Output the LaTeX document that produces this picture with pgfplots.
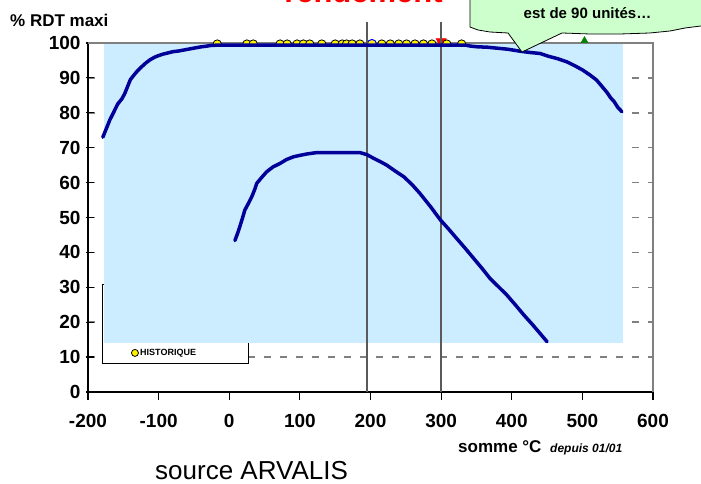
\documentclass[border=0pt]{standalone}
\usepackage{fontspec}
\setmainfont{Liberation Sans}
\usepackage{pgfplots}
\pgfplotsset{compat=1.18}
\definecolor{navy}{HTML}{000099}
\definecolor{skyb}{HTML}{CCECFF}
\definecolor{mint}{HTML}{CCFFCC}
\definecolor{gridg}{HTML}{808080}
\definecolor{vline}{HTML}{5A5A5A}
\pgfplotsset{base/.style={at={(88pt,92pt)}, anchor=south west,
  scale only axis, width=565pt, height=349pt,
  xmin=-200, xmax=600, ymin=0, ymax=100, clip=false}}
\begin{document}
\begin{tikzpicture}
% base chart: axes, grid and historical markers
\begin{axis}[
  base,
  xtick={-200,-100,...,600}, ytick={0,10,...,100},
  axis x line*=bottom, axis y line*=left,
  axis line style={black, line width=1.2pt, -},
  tick align=center, major tick length=8pt,
  xtick style={black, line width=1.2pt, yshift=-4pt},
  ytick style={black, line width=1.2pt, xshift=1.5pt},
  ymajorgrids, grid style={gridg, dash pattern=on 7pt off 9pt, line width=1.5pt},
  /pgf/number format/assume math mode=true,
  ticklabel style={font=\bfseries\fontsize{19}{19}\selectfont},
  xticklabel style={yshift=-15pt},
]
\draw[gridg, line width=1.2pt] (axis cs:-200,100) -- (axis cs:600,100) -- (axis cs:600,0);
\addplot[only marks, mark=*, mark size=4.6pt, mark options={fill=yellow, draw=blue, line width=1pt}] coordinates {(202,99.7)};
\addplot[only marks, mark=*, mark size=4.2pt, mark options={fill=yellow, draw=black, line width=0.8pt}] coordinates {
(-17,99.7) (25,99.7) (34,99.7) (72,99.7) (82,99.7) (96,99.7) (105,99.7) (114,99.7) (131,99.7) (150,99.7) (160,99.7) (166,99.7) (174,99.7) (185,99.7) (216,99.7) (228,99.7) (240,99.7) (251,99.7) (263,99.7) (275,99.7) (287,99.7) (329,99.7)};
\addplot[only marks, mark=triangle*, mark size=6pt, mark options={fill=red, draw=red, rotate=180}] coordinates {(300,100.4)};
\addplot[only marks, mark=*, mark size=4.2pt, mark options={fill=yellow, draw=black, line width=0.8pt}] coordinates {(308,99.7)};
\addplot[only marks, mark=triangle*, mark size=4pt, mark options={fill=green!50!black, draw=green!50!black}] coordinates {(503,100.7)};
\end{axis}
% overlaid chart: plot area, curves, reference lines, legend
\begin{axis}[base, hide axis]
\addplot[fill=white, draw=black, line width=0.8pt] coordinates {(-179.5,8.3) (26.5,8.3) (26.5,30.7) (-179.5,30.7)} -- cycle;
\addplot[fill=skyb, draw=none] coordinates {(-178,14) (557.5,14) (557.5,99.6) (-178,99.6)} -- cycle;
\addplot[vline, line width=1.5pt] coordinates {(195,0) (195,106)};
\addplot[vline, line width=1.5pt] coordinates {(300,0) (300,106)};
\addplot[navy, line width=3.5pt, line join=round, line cap=round] coordinates {
(-179,73) (-174,75.5) (-169,78) (-164,80) (-158,82.5) (-152,84) (-148,85.5) (-144,87.5) (-140,89.5) (-135,90.8) (-130,92) (-124,93.2) (-118,94.3) (-112,95.2) (-106,95.9) (-100,96.4) (-94,96.8) (-88,97.1) (-80,97.5) (-72,97.7) (-64,98) (-56,98.3) (-48,98.6) (-40,98.9) (-32,99.1) (-26,99.3) (-15,99.4) (0,99.4) (100,99.4) (200,99.4) (300,99.4) (334,99.4) (342,99.1) (352,98.9) (365,98.8) (380,98.5) (395,98.2) (410,97.7) (425,97.3) (440,97) (452,96.2) (465,95.5) (478,94.6) (490,93.4) (500,92.3) (511,90.8) (520,89.4) (528,87.5) (535,85.8) (540,84.3) (545,83.2) (550,81.6) (556,80.3)};
\addplot[navy, line width=3.5pt, line join=round, line cap=round] coordinates {
(8,43.4) (11,45) (15,47.4) (19,50) (22,52.1) (27,54) (32,56) (36,58) (39,59.8) (46,61.5) (53,63.1) (62,64.5) (72,65.5) (81,66.6) (91,67.4) (100,67.8) (110,68.2) (124,68.6) (140,68.6) (160,68.6) (185,68.6) (195,68) (204,67) (214,66) (223,65) (235,63.3) (247,61.7) (259,59.4) (270,56.9) (285,53.1) (299,49.3) (311,46.6) (322,44) (334,41.2) (346,38.3) (358,35.4) (369,32.6) (381,30.2) (393,27.8) (405,25) (417,22.1) (429,19.4) (440,16.8) (450,14.4)};
\addplot[only marks, mark=*, mark size=3.5pt, mark options={fill=yellow, draw=black, line width=0.8pt}] coordinates {(-133.5,11.2)};
\node[anchor=west, inner sep=0pt, font=\bfseries\fontsize{9}{9}\selectfont] at (axis cs:-126.4,11.2) {HISTORIQUE};
\end{axis}
\begin{scope}[x=1pt,y=1pt]
\node[anchor=west, inner sep=0pt, font=\bfseries\fontsize{17}{17}\selectfont] at (10,464) {\% RDT maxi};
\node[anchor=base, inner sep=0pt, text=red, font=\bfseries\fontsize{31}{31}\selectfont] at (363.5,481) {rendement};
\draw[fill=mint, line width=0.8pt] (470,489) -- (470,457) -- (478,454) -- (490,452) -- (508,451) -- (522,432) -- (562,451) -- (590,450) -- (620,450) -- (650,451) -- (670,453) -- (685,456) -- (701,458) -- (706,458) -- (706,489) -- cycle;
\node[anchor=base, inner sep=0pt, font=\bfseries\fontsize{15}{15}\selectfont] at (587.5,465) {est de 90 unités…};
\node[anchor=base west, inner sep=0pt, font=\bfseries\fontsize{17}{17}\selectfont] at (458,31) {somme °C};
\node[anchor=base west, inner sep=0pt, font=\bfseries\itshape\fontsize{12}{12}\selectfont] at (550,31) {depuis 01/01};
\node[anchor=base west, inner sep=0pt, font=\fontsize{26}{26}\selectfont] at (155,4) {source ARVALIS};
\pgfresetboundingbox
\path[use as bounding box] (0,0) rectangle (701,484);
\end{scope}
\end{tikzpicture}
\end{document}
